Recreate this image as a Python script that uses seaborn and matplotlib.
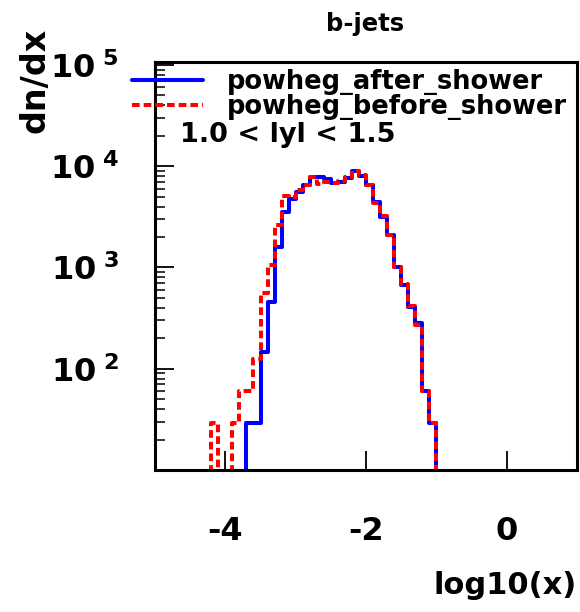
import numpy as np
import pandas as pd
import matplotlib
matplotlib.use("Agg")
import matplotlib.pyplot as plt
import seaborn as sns
from matplotlib.ticker import FixedLocator, FixedFormatter, LogLocator, NullFormatter, NullLocator

# ---------------- data ----------------
first_edge = -4.3
bin_width = 0.1
after_shower = [0, 0, 0, 0, 0, 0, 29, 29, 148, 453, 1590, 3530, 4790, 5600,
                6500, 7800, 7800, 7400, 6900, 7000, 7600, 8900, 8000, 6600,
                4440, 3150, 2070, 1010, 664, 404, 280, 60, 29, 0]
before_shower = [0, 29, 0, 0, 29, 60, 60, 125, 560, 1060, 2600, 5100, 5000, 5800,
                 6600, 7900, 6700, 7000, 6800, 7100, 7800, 9000, 8100, 6500,
                 4300, 3200, 2100, 1000, 680, 420, 270, 60, 29, 0]
series_names = ["powheg_after_shower", "powheg_before_shower"]
xtick_values = [-4, -2, 0]
xtick_labels = ["-4", "-2", "0"]
ytick_values = [1e2, 1e3, 1e4, 1e5]
ytick_labels = [r"$\mathbf{10^{\ 2}}$", r"$\mathbf{10^{\ 3}}$",
                r"$\mathbf{10^{\ 4}}$", r"$\mathbf{10^{\ 5}}$"]
title_text = "b-jets"
x_label = "log10(x)"
y_label = "dn/dx"
range_text = "1.0 < lyl < 1.5"

# ---------------- style ----------------
sns.set_style("ticks")
plt.rcParams["font.family"] = ["DejaVu Sans"]
plt.rcParams["font.weight"] = "bold"
plt.rcParams["mathtext.fontset"] = "dejavusans"
for key in ["text.color", "axes.labelcolor", "xtick.color", "ytick.color",
            "axes.edgecolor"]:
    plt.rcParams[key] = "black"

W, H = 580, 612
fig = plt.figure(figsize=(W / 100, H / 100), dpi=100)
ax = fig.add_axes([155 / W, 1 - 470 / H, 422 / W, 408 / H])

n = len(after_shower)
edges = [float(e) for e in np.round(first_edge + bin_width * np.arange(n + 1), 6)]
centers = [(edges[i] + edges[i + 1]) / 2 for i in range(n)]
df_after = pd.DataFrame({"x": centers, "w": after_shower})
df_before = pd.DataFrame({"x": centers, "w": before_shower})

sns.histplot(data=df_after, x="x", weights="w", bins=edges, element="step",
             fill=False, color="#0000ff", linewidth=2.9, ax=ax)
sns.histplot(data=df_before, x="x", weights="w", bins=edges, element="step",
             fill=False, color="#ff0000", linewidth=2.9,
             linestyle=(0, (1.9, 1.0)), ax=ax)

ax.set_yscale("log", nonpositive="clip")
ax.set_xlim(-5, 1)
ax.set_ylim(10, 1.07e5)

ax.xaxis.set_major_locator(FixedLocator(xtick_values))
ax.xaxis.set_major_formatter(FixedFormatter(xtick_labels))
ax.xaxis.set_minor_locator(NullLocator())
ax.yaxis.set_major_locator(FixedLocator(ytick_values))
ax.yaxis.set_major_formatter(FixedFormatter(ytick_labels))
ax.yaxis.set_minor_locator(LogLocator(base=10, subs=np.arange(2, 10) * 1.0, numticks=20))
ax.yaxis.set_minor_formatter(NullFormatter())

ax.tick_params(axis="both", which="both", direction="in", top=False, right=False,
               color="black", labelcolor="black")
ax.tick_params(axis="x", which="major", length=14, width=1.3, pad=33, labelsize=23)
ax.tick_params(axis="y", which="major", length=14, width=1.3, pad=26, labelsize=23)
ax.tick_params(axis="y", which="minor", length=7, width=1.1)
for s in ax.spines.values():
    s.set_linewidth(2.2)
    s.set_color("black")
    s.set_visible(True)

ax.set_xlabel(x_label, fontsize=22, fontweight="bold", loc="right", color="black")
ax.xaxis.set_label_coords(1.0, -(585 - 470) / 408)
ax.xaxis.label.set_va("center")
ax.set_ylabel(y_label, fontsize=24, fontweight="bold", loc="top", color="black")
ax.yaxis.set_label_coords((35 - 155) / 422, (470 - 28) / 408)
ax.yaxis.label.set_va("center")

fig.text(365 / W, 1 - 24 / H, title_text, ha="center", va="center",
         fontsize=17.5, fontweight="bold", color="black")
fig.text(180 / W, 1 - 135 / H, range_text, ha="left", va="center",
         fontsize=19.5, fontweight="bold", color="black")

handles = ax.lines[:2]
ax.legend(handles, series_names, loc="upper left",
          bbox_to_anchor=(132 / W, 1 - 69 / H), bbox_transform=fig.transFigure,
          frameon=False, fontsize=18.5, handlelength=2.75, handletextpad=0.95,
          labelspacing=-0.05, borderpad=0, borderaxespad=0)
for t in ax.get_legend().get_texts():
    t.set_fontweight("bold")
    t.set_color("black")

fig.savefig("out.png", dpi=100)
